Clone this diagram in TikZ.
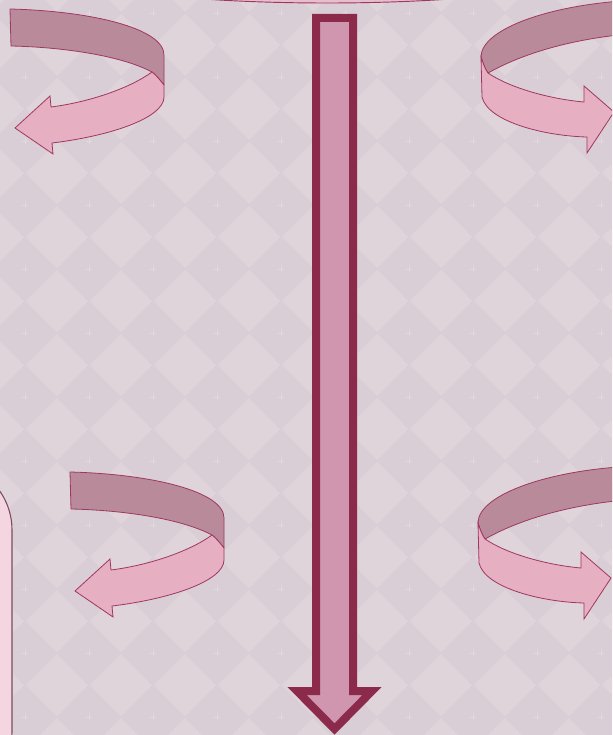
\documentclass[tikz,border=0pt]{standalone}
\usepackage{xcolor}
\definecolor{bgbase}{RGB}{217,206,214}
\definecolor{bglight}{RGB}{222,212,218}
\definecolor{sparkle}{RGB}{226,217,223}
\definecolor{bandback}{RGB}{185,139,154}
\definecolor{bandfront}{RGB}{230,175,194}
\definecolor{bandedge}{RGB}{160,55,95}
\definecolor{arrowrim}{RGB}{139,42,75}
\definecolor{arrowcore}{RGB}{208,150,176}
\definecolor{panelfill}{RGB}{243,214,224}
\definecolor{paneledge}{RGB}{124,74,96}
\definecolor{capfill}{RGB}{232,190,204}

\begin{document}
\begin{tikzpicture}[x=0.75pt, y=-0.75pt,
      back/.style={fill=bandback, draw=bandedge, line width=0.6pt, line join=round},
      front/.style={fill=bandfront, draw=bandedge, line width=0.6pt, line join=miter},
      bigarrow/.style={fill=arrowcore, draw=arrowrim, line width=6pt, line join=miter},
      panel/.style={fill=panelfill, draw=paneledge, line width=0.8pt, rounded corners=51pt},
      topcap/.style={fill=capfill, draw=bandedge, line width=0.7pt},
      ribbonleft/.pic={
        \path[back] (10,9) .. controls (90,11) and (164,28) .. (164,55) -- (164,85)
          .. controls (160,80) and (156,75) .. (152,72)
          .. controls (120,55) and (60,47) .. (11,46) -- cycle;
        \path[front] (152,72) .. controls (156,75) and (160,80) .. (164,85) -- (164,97)
          .. controls (164,118) and (110,136) .. (52,143) -- (53,154) -- (15,128)
          -- (50,96) -- (51,107) .. controls (90,102) and (130,88) .. (152,72) -- cycle;
      },
      ribbonright/.pic={
        \path[back] (640,0) .. controls (555,3) and (481,28) .. (481,57)
          .. controls (483,63) and (485,69) .. (488,73)
          .. controls (520,55) and (570,38) .. (640,33) -- cycle;
        \path[front] (481,57) .. controls (483,63) and (485,69) .. (488,73)
          .. controls (510,88) and (550,99) .. (584,102) -- (584,86) -- (614,112)
          -- (587,153) -- (587,137) .. controls (545,136) and (488,122) .. (482,97) -- cycle;
      }
    ]
    \useasboundingbox (0,0) rectangle (612,735);
    \clip (0,0) rectangle (612,735);

    % backdrop
    \fill[bgbase] (0,0) rectangle (612,735);
    \foreach \i in {-1,...,9}
      \foreach \j in {-1,...,11}
        \fill[bglight] ({57+64*\i},{14+64*\j}) -- ++(31,31) -- ++(-31,31) -- ++(-31,-31) -- cycle;
    \foreach \i in {0,...,9}
      \foreach \j in {0,...,11}
        \draw[sparkle, line width=0.4pt] ({25+64*\i-3},{13+64*\j}) -- ++(6,0)
          ({25+64*\i},{13+64*\j-3}) -- ++(0,6);

    % shapes cut by the frame
    \draw[topcap] (327,-42) ellipse [x radius=300, y radius=45];
    \draw[panel] (-100,462) rectangle (12,800);

    % turning ribbons
    \pic at (0,0) {ribbonleft};
    \pic at (60,463) {ribbonleft};
    \pic at (0,0) {ribbonright};
    \pic at (-3,466) {ribbonright};

    % downward arrow
    \draw[bigarrow] (316,18) -- (353,18) -- (353,691) -- (372,691) -- (334.5,729)
      -- (297,691) -- (316,691) -- cycle;
  \end{tikzpicture}
\end{document}
